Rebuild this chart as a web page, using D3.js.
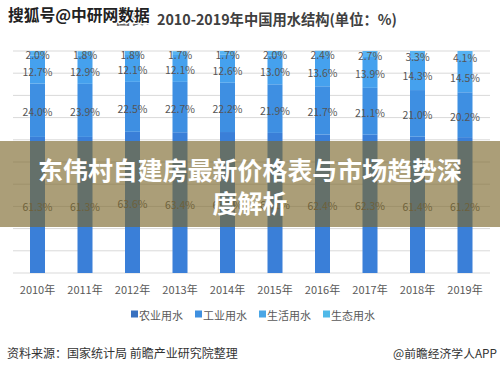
<!DOCTYPE html>
<html><head><meta charset="utf-8">
<script src="https://cdn.jsdelivr.net/npm/d3@7"></script>
<style>html,body{margin:0;padding:0;background:#fff;}svg{display:block;}</style>
</head><body>
<script>
const years = ['2010年','2011年','2012年','2013年','2014年','2015年','2016年','2017年','2018年','2019年'];
const agri = [61.3,61.3,63.6,63.4,63.5,63.1,62.4,62.3,61.4,61.2];
const industry = [24.0,23.9,22.5,22.7,22.2,21.9,21.7,21.1,21.0,20.2];
const domestic = [12.7,12.9,12.1,12.1,12.6,13.0,13.6,13.9,14.3,14.5];
const eco = [2.0,1.8,1.8,1.7,1.7,2.0,2.4,2.7,3.3,4.1];
const seriesNames = ['农业用水','工业用水','生活用水','生态用水'];
const gridTicks = [0,10,20,30,40,50,60,70,80,90,100];

const W=500,H=369;
const font='"Noto Sans CJK SC","Noto Sans",sans-serif';
const svg=d3.select('body').append('svg').attr('width',W).attr('height',H).style('font-family',font);

function fit(sel,width){
  const fs=parseFloat(sel.attr('font-size'));
  const len=sel.node().getComputedTextLength();
  if(len>0) sel.attr('font-size',fs*width/len);
  return sel;
}

const barColors=['#3a7fd8','#3e8fe2','#45a1ee','#58b3f2'];
const legendColors=['#3a72c0','#3f90e0','#4aa6e6','#50b9e8'];

const x=d3.scaleBand().domain(years).range([13.75,488.75]).paddingInner(0.68).paddingOuter(0.34);
const y=d3.scaleLinear().domain([0,100]).range([273,51]);

svg.append('g').selectAll('line').data(gridTicks).join('line')
  .attr('x1',13).attr('x2',490).attr('y1',d=>y(d)).attr('y2',d=>y(d))
  .attr('stroke','#d9d9d9').attr('stroke-width',1);

const rows=years.map((yr,i)=>({year:yr,s0:agri[i],s1:industry[i],s2:domestic[i],s3:eco[i]}));
const stack=d3.stack().keys(['s0','s1','s2','s3'])(rows);

const bw=15;
stack.forEach((layer,k)=>{
  svg.append('g').selectAll('rect').data(layer).join('rect')
    .attr('x',d=>x(d.data.year)+x.bandwidth()/2-bw/2)
    .attr('width',bw)
    .attr('y',d=>y(d[1]))
    .attr('height',d=>y(d[0])-y(d[1]))
    .attr('fill',barColors[k]);
});
stack.forEach((layer,k)=>{
  svg.append('g').selectAll('text').data(layer).join('text')
    .attr('x',d=>x(d.data.year)+x.bandwidth()/2)
    .attr('y',d=>(y(d[0])+y(d[1]))/2+1.5)
    .attr('text-anchor','middle').attr('dominant-baseline','central')
    .attr('font-size',10.5).attr('fill','#555')
    .text(d=>(d[1]-d[0]).toFixed(1)+'%');
});

svg.append('g').selectAll('text').data(years).join('text')
  .attr('x',d=>x(d)+x.bandwidth()/2).attr('y',289).attr('text-anchor','middle')
  .attr('dominant-baseline','central').attr('font-size',11).attr('fill','#595959')
  .text(d=>d);

const legX=[131,195,259,323];
const lg=svg.append('g');
seriesNames.forEach((n,i)=>{
  lg.append('rect').attr('x',legX[i]).attr('y',310.5).attr('width',7).attr('height',7).attr('fill',legendColors[i]);
  fit(lg.append('text').attr('x',legX[i]+8).attr('y',314.5).attr('dominant-baseline','central')
    .attr('font-size',11).attr('fill','#595959').text(n),44);
});

// title
svg.append('text').attr('x',116).attr('y',18).attr('dominant-baseline','central')
  .attr('font-size',14).attr('font-weight','bold').attr('fill','#666').text('图表：');
fit(svg.append('text').attr('x',157).attr('y',18).attr('dominant-baseline','central')
  .attr('font-size',14).attr('font-weight','bold').attr('fill','#404040').text('2010-2019年中国用水结构(单位：%)'),240);
fit(svg.append('text').attr('x',8).attr('y',14).attr('dominant-baseline','central')
  .attr('font-size',15).attr('font-weight','bold').attr('fill','#222')
  .attr('stroke','#fff').attr('stroke-width',2.5).attr('paint-order','stroke')
  .text('搜狐号@中研网数据'),142);

// footer
fit(svg.append('text').attr('x',7).attr('y',352).attr('dominant-baseline','central')
  .attr('font-size',11.5).attr('fill','#333').text('资料来源：国家统计局 前瞻产业研究院整理'),231);
fit(svg.append('text').attr('x',497).attr('y',352).attr('text-anchor','end').attr('dominant-baseline','central')
  .attr('font-size',11.5).attr('fill','#333').text('@前瞻经济学人APP'),104);

// banner overlay
svg.append('rect').attr('x',0).attr('y',141).attr('width',W).attr('height',86)
  .attr('fill','rgb(124,103,44)').attr('fill-opacity',0.64);
fit(svg.append('text').attr('x',250).attr('y',169).attr('text-anchor','middle').attr('dominant-baseline','central')
  .attr('font-size',24.5).attr('font-weight','bold').attr('fill','#fff').text('东伟村自建房最新价格表与市场趋势深'),424);
svg.append('text').attr('x',250).attr('y',202).attr('text-anchor','middle').attr('dominant-baseline','central')
  .attr('font-size',24.5).attr('font-weight','bold').attr('fill','#fff').text('度解析')
  .attr('font-size',function(){return d3.select(this.previousSibling).attr('font-size');});
</script>
</body></html>
